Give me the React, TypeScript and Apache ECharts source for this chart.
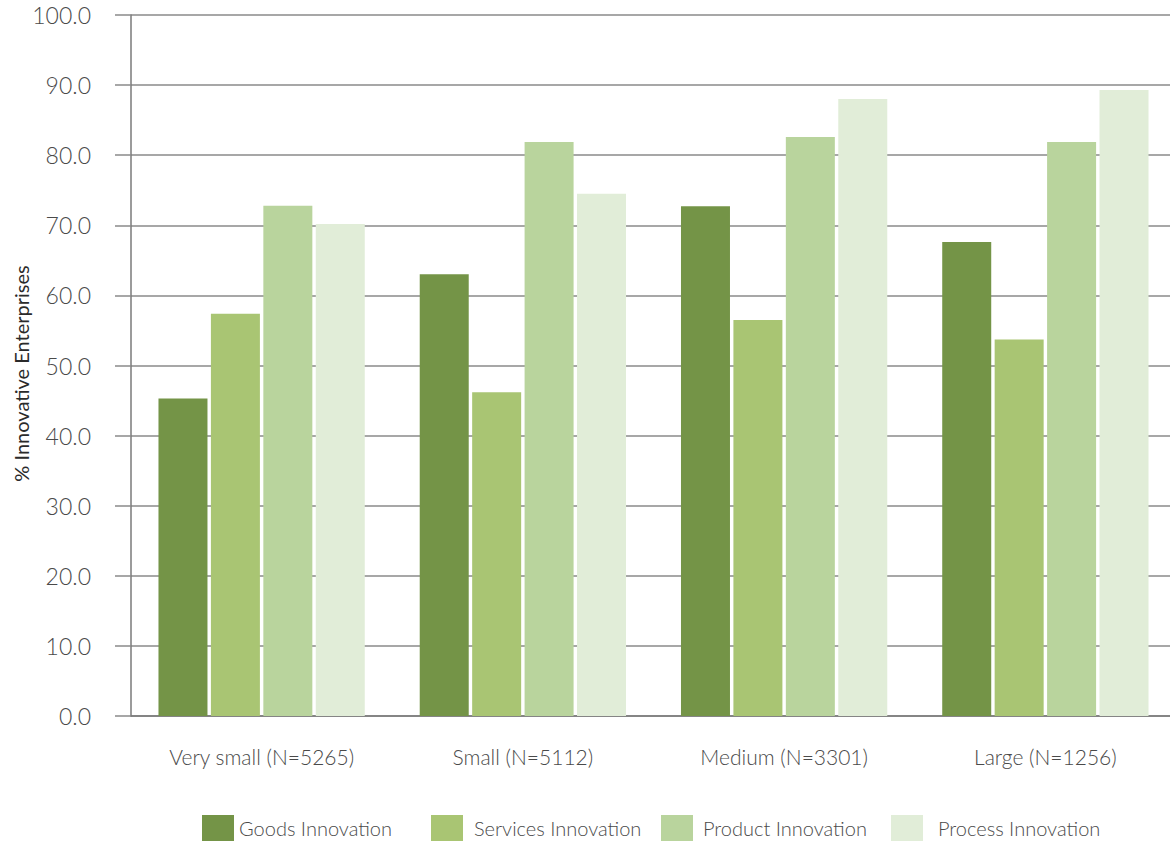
import React, { useEffect, useRef } from "react";
import * as echarts from "echarts";

// Enterprise size classes (x-axis categories)
const categories = [
  "Very small (N=5265)",
  "Small (N=5112)",
  "Medium (N=3301)",
  "Large (N=1256)",
];

// Share of innovative enterprises (%) by innovation type
const goodsInnovation = [45.3, 63.0, 72.7, 67.6];
const servicesInnovation = [57.4, 46.2, 56.5, 53.7];
const productInnovation = [72.8, 81.9, 82.6, 81.9];
const processInnovation = [70.2, 74.5, 88.0, 89.3];

const seriesNames = [
  "Goods Innovation",
  "Services Innovation",
  "Product Innovation",
  "Process Innovation",
];
const seriesColors = ["#749447", "#a9c573", "#b9d49d", "#e1edd8"];
const seriesValues = [
  goodsInnovation,
  servicesInnovation,
  productInnovation,
  processInnovation,
];

const yTicks = { min: 0, max: 100, interval: 10 };
const yAxisTitle = "% Innovative Enterprises";

// Legend swatch left edges and swatch-to-text gaps
const legendLefts = [202, 431, 661, 891];
const legendTextGaps = [5, 11, 10, 15];

const FONT = "Lato, 'Open Sans', sans-serif";

export default function App() {
  const ref = useRef<HTMLDivElement>(null);

  useEffect(() => {
    if (!ref.current) return;
    const chart = echarts.init(ref.current, null, { renderer: "svg" });
    chart.setOption({
      animation: false,
      backgroundColor: "#ffffff",
      grid: {
        left: 131,
        right: -6,
        top: 15,
        bottom: 125,
        outerBoundsMode: "none",
      },
      legend: seriesNames.map((name, i) => ({
        top: 815,
        left: legendLefts[i],
        padding: 0,
        itemWidth: 32,
        itemHeight: 26,
        icon: "rect",
        textStyle: {
          fontFamily: FONT,
          fontWeight: 300,
          fontSize: 20,
          color: "#4a4a4a",
          padding: [0, 0, 0, legendTextGaps[i] - 5],
        },
        data: [name],
      })),
      xAxis: {
        type: "category",
        data: categories,
        axisLine: { lineStyle: { color: "#7a7a7a", width: 1.5 } },
        axisTick: {
          inside: true,
          length: 18,
          lineStyle: { color: "#7a7a7a", width: 1 },
        },
        axisLabel: {
          margin: 30,
          fontFamily: FONT,
          fontWeight: 300,
          fontSize: 21,
          color: "#4a4a4a",
        },
      },
      yAxis: {
        type: "value",
        min: yTicks.min,
        max: yTicks.max,
        interval: yTicks.interval,
        name: yAxisTitle,
        nameLocation: "middle",
        nameGap: 100,
        nameMoveOverlap: false,
        nameTextStyle: {
          fontFamily: FONT,
          fontSize: 20,
          color: "#2a2a2a",
          padding: [0, 16, 0, 0],
        },
        axisLine: { show: true, lineStyle: { color: "#7a7a7a", width: 1.5 } },
        axisTick: {
          show: true,
          length: 16,
          lineStyle: { color: "#8a8a8a", width: 1.5 },
        },
        splitLine: { lineStyle: { color: "#8a8a8a", width: 1.5 } },
        axisLabel: {
          margin: 40,
          fontFamily: FONT,
          fontWeight: 300,
          fontSize: 23,
          color: "#4a4a4a",
          formatter: (v: number) => v.toFixed(1),
        },
      },
      series: seriesNames.map((name, i) => ({
        name,
        type: "bar",
        data: seriesValues[i],
        barWidth: 49,
        barGap: "7%",
        itemStyle: { color: seriesColors[i] },
      })),
    });
    return () => chart.dispose();
  }, []);

  return (
    <div
      style={{
        position: "fixed",
        left: 0,
        top: 0,
        width: 1170,
        height: 841,
        overflow: "hidden",
        background: "#fff",
      }}
    >
      <div ref={ref} style={{ width: 1170, height: 841 }} />
    </div>
  );
}
